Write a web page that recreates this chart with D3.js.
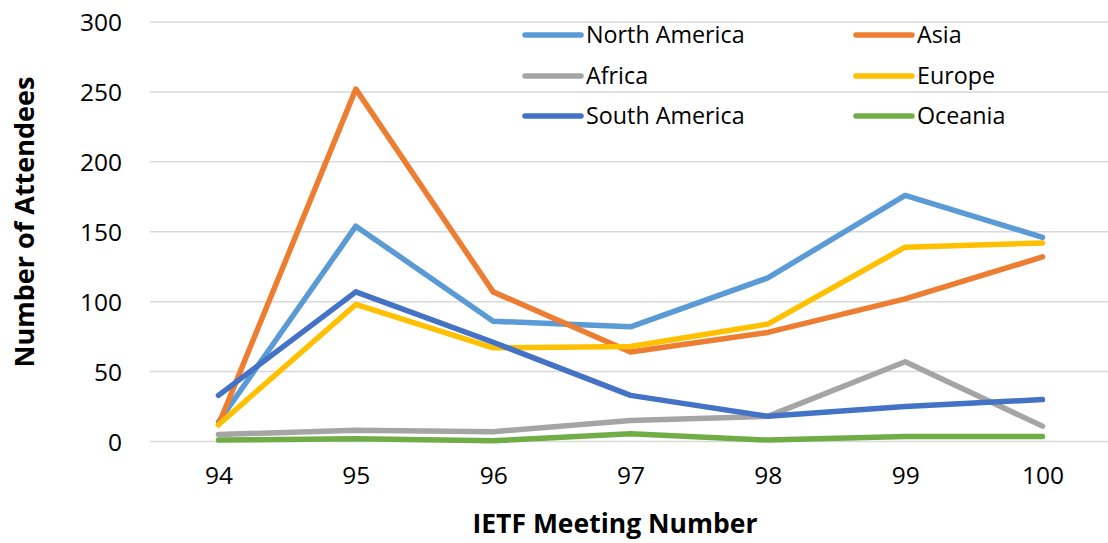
<!DOCTYPE html>
<html>
<head>
<meta charset="utf-8">
<script src="https://cdn.jsdelivr.net/npm/d3@7"></script>
<style>
  html, body { margin: 0; padding: 0; background: #fff; }
  svg { display: block; }
  text { font-family: "Open Sans", "Noto Sans", sans-serif; fill: #000; }
</style>
</head>
<body>
<svg id="chart" width="1108" height="543"></svg>
<script>
const meetings = ["94", "95", "96", "97", "98", "99", "100"];
const yTicks = [0, 50, 100, 150, 200, 250, 300];

const northAmerica = [14, 154, 86, 82, 117, 176, 146];
const asia         = [12, 252, 107, 64, 78, 102, 132];
const africa       = [5, 8, 7, 15, 18, 57, 11];
const europe       = [12, 98, 67, 68, 84, 139, 142];
const southAmerica = [33, 107, 71, 33, 18, 25, 30];
const oceania      = [1, 2, 0.5, 5.5, 1, 3.5, 3.5];

const seriesNames  = ["North America", "Asia", "Africa", "Europe", "South America", "Oceania"];
const seriesColors = ["#5B9BD5", "#ED7D31", "#A5A5A5", "#FFC000", "#4472C4", "#70AD47"];
const seriesValues = [northAmerica, asia, africa, europe, southAmerica, oceania];

const svg = d3.select("#chart");

const x = d3.scalePoint().domain(meetings).range([218.5, 1042.5]);
const y = d3.scaleLinear().domain([0, 300]).range([441.5, 22]);

// gridlines
svg.append("g")
  .selectAll("line")
  .data(yTicks)
  .join("line")
  .attr("x1", 150).attr("x2", 1108)
  .attr("y1", d => y(d)).attr("y2", d => y(d))
  .attr("stroke", "#d9d9d9").attr("stroke-width", 1.5);

// y axis labels
const yAxis = d3.axisLeft(y).tickValues(yTicks).tickSize(0).tickPadding(0);
const gy = svg.append("g").attr("transform", "translate(122,0)").call(yAxis);
gy.select(".domain").remove();
gy.selectAll("text")
  .attr("font-size", 24.5)
  .attr("font-family", "Open Sans")
  .attr("fill", "#262626")
  .attr("dy", "0.35em");

// x axis labels
const xAxis = d3.axisBottom(x).tickSize(0).tickPadding(0);
const gx = svg.append("g").attr("transform", "translate(0,467)").call(xAxis);
gx.select(".domain").remove();
gx.selectAll("text")
  .attr("font-size", 24.5)
  .attr("font-family", "Open Sans")
  .attr("fill", "#262626")
  .attr("dy", "0.71em");

// lines
const line = d3.line()
  .x((d, i) => x(meetings[i]))
  .y(d => y(d))
  .curve(d3.curveLinear);

svg.append("g")
  .selectAll("path")
  .data(seriesValues)
  .join("path")
  .attr("d", d => line(d))
  .attr("fill", "none")
  .attr("stroke", (d, i) => seriesColors[i])
  .attr("stroke-width", 5.5)
  .attr("stroke-linecap", "round")
  .attr("stroke-linejoin", "round");

// legend
const legendCols = [525, 856];
const legendRows = [35, 76, 116];
const lg = svg.append("g");
seriesNames.forEach((name, i) => {
  const cx = legendCols[i % 2];
  const cy = legendRows[Math.floor(i / 2)];
  lg.append("line")
    .attr("x1", cx).attr("x2", cx + 56)
    .attr("y1", cy).attr("y2", cy)
    .attr("stroke", seriesColors[i])
    .attr("stroke-width", 5.5)
    .attr("stroke-linecap", "round");
  lg.append("text")
    .attr("x", cx + 61).attr("y", cy)
    .attr("dy", "0.35em")
    .attr("font-size", 23.3)
    .attr("fill", "#262626")
    .text(name);
});

// axis titles
svg.append("text")
  .attr("transform", "translate(25,222) rotate(-90)")
  .attr("text-anchor", "middle")
  .attr("dy", "0.35em")
  .attr("font-size", 27)
  .attr("font-weight", "bold")
  .text("Number of Attendees");

svg.append("text")
  .attr("x", 615).attr("y", 524)
  .attr("text-anchor", "middle")
  .attr("dy", "0.35em")
  .attr("font-size", 26.5)
  .attr("font-weight", "bold")
  .text("IETF Meeting Number");
</script>
</body>
</html>
